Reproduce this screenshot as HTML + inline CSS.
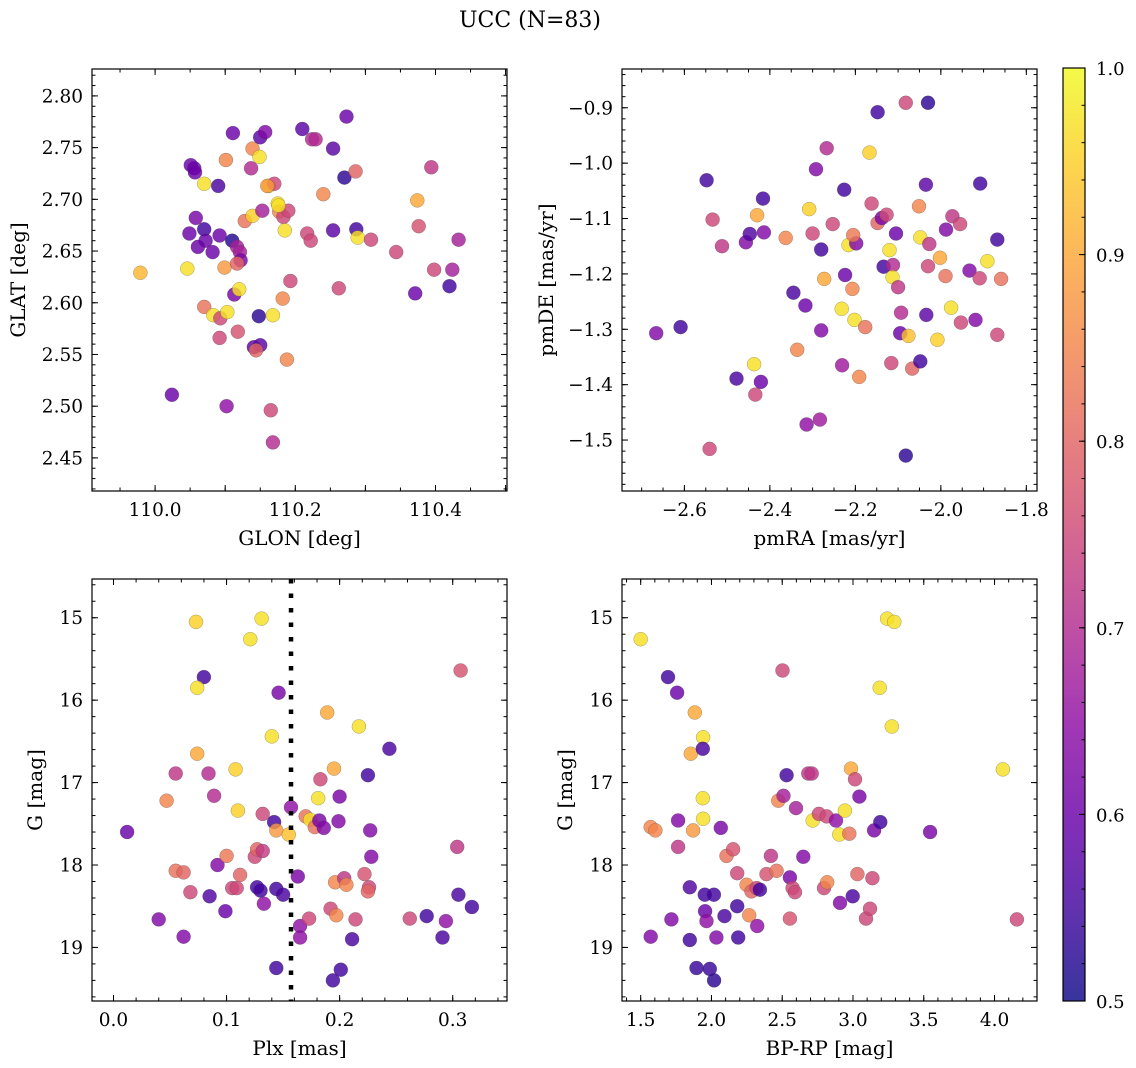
<!DOCTYPE html>
<html><head><meta charset="utf-8"><style>
body{margin:0;background:#fff;}
svg{display:block;font-family:"DejaVu Serif","Liberation Serif",serif;}
</style></head><body>
<svg id="fig" width="1136" height="1068" viewBox="0 0 1136 1068" xmlns="http://www.w3.org/2000/svg">
<rect width="1136" height="1068" fill="#fff"/>
<text x="530" y="27" font-size="22" text-anchor="middle">UCC (N=83)</text>
</svg>
<script>
const tlGlon=[109.979,110.024,110.046,110.051,110.056,110.049,110.058,110.061,110.070,110.070,110.072,110.070,110.082,110.083,110.090,110.092,110.092,110.093,110.101,110.099,110.103,110.110,110.111,110.117,110.113,110.120,110.118,110.121,110.122,110.117,110.102,110.128,110.137,110.139,110.139,110.149,110.150,110.157,110.148,110.150,110.141,110.144,110.153,110.162,110.170,110.165,110.168,110.168,110.175,110.177,110.183,110.190,110.185,110.182,110.188,110.193,110.210,110.224,110.229,110.217,110.222,110.240,110.254,110.254,110.262,110.270,110.273,110.286,110.287,110.289,110.308,110.344,110.371,110.374,110.376,110.394,110.398,110.420,110.424,110.433,110.176,110.160,110.057];
const tlGlat=[2.629,2.511,2.633,2.733,2.730,2.667,2.682,2.654,2.715,2.671,2.660,2.596,2.649,2.588,2.713,2.665,2.566,2.585,2.738,2.634,2.591,2.660,2.764,2.654,2.608,2.613,2.572,2.649,2.641,2.638,2.500,2.679,2.730,2.684,2.749,2.741,2.760,2.765,2.587,2.559,2.557,2.554,2.689,2.713,2.715,2.496,2.465,2.588,2.696,2.688,2.683,2.689,2.670,2.604,2.545,2.621,2.768,2.758,2.758,2.667,2.660,2.705,2.749,2.670,2.614,2.721,2.780,2.727,2.671,2.663,2.661,2.649,2.609,2.699,2.674,2.731,2.632,2.616,2.632,2.661,2.694,2.713,2.726];
const tlProb=[0.92,0.6,0.97,0.6,0.6,0.6,0.62,0.6,0.97,0.55,0.6,0.82,0.6,0.97,0.56,0.6,0.75,0.75,0.85,0.88,0.97,0.52,0.6,0.68,0.62,0.97,0.77,0.68,0.62,0.8,0.65,0.82,0.7,0.95,0.85,0.97,0.58,0.63,0.53,0.58,0.58,0.8,0.68,0.97,0.75,0.75,0.7,0.97,0.97,0.85,0.75,0.75,0.97,0.85,0.85,0.75,0.58,0.7,0.7,0.75,0.75,0.85,0.58,0.58,0.75,0.53,0.6,0.8,0.55,0.97,0.75,0.75,0.6,0.9,0.77,0.72,0.75,0.55,0.68,0.68,0.97,0.88,0.6];

const trPmra=[-2.666,-2.609,-2.548,-2.534,-2.512,-2.541,-2.478,-2.456,-2.447,-2.437,-2.434,-2.430,-2.421,-2.416,-2.414,-2.363,-2.345,-2.336,-2.317,-2.314,-2.308,-2.292,-2.283,-2.280,-2.280,-2.273,-2.267,-2.300,-2.253,-2.231,-2.232,-2.226,-2.224,-2.216,-2.198,-2.205,-2.207,-2.202,-2.191,-2.177,-2.167,-2.162,-2.148,-2.148,-2.138,-2.127,-2.134,-2.120,-2.112,-2.113,-2.116,-2.105,-2.100,-2.093,-2.095,-2.082,-2.082,-2.076,-2.067,-2.051,-2.048,-2.048,-2.035,-2.034,-2.030,-2.027,-2.030,-2.008,-2.002,-1.989,-1.988,-1.976,-1.973,-1.955,-1.953,-1.933,-1.919,-1.909,-1.908,-1.891,-1.868,-1.859,-1.868];
const trPmde=[-1.307,-1.296,-1.031,-1.102,-1.150,-1.516,-1.389,-1.143,-1.128,-1.363,-1.418,-1.094,-1.395,-1.064,-1.125,-1.135,-1.234,-1.337,-1.257,-1.472,-1.083,-1.011,-1.463,-1.156,-1.302,-1.209,-0.973,-1.127,-1.110,-1.365,-1.263,-1.048,-1.202,-1.148,-1.145,-1.130,-1.227,-1.283,-1.386,-1.296,-0.981,-1.073,-1.108,-0.908,-1.099,-1.093,-1.187,-1.157,-1.184,-1.206,-1.361,-1.127,-1.224,-1.270,-1.307,-0.891,-1.528,-1.312,-1.371,-1.078,-1.358,-1.134,-1.039,-1.274,-0.891,-1.146,-1.186,-1.319,-1.171,-1.204,-1.120,-1.261,-1.096,-1.110,-1.288,-1.194,-1.283,-1.208,-1.037,-1.177,-1.138,-1.209,-1.310];
const trProb=[0.63,0.55,0.55,0.75,0.72,0.75,0.56,0.63,0.57,0.97,0.75,0.9,0.6,0.55,0.63,0.85,0.56,0.85,0.6,0.65,0.95,0.63,0.67,0.55,0.63,0.9,0.7,0.75,0.75,0.67,0.97,0.55,0.6,0.97,0.63,0.83,0.85,0.97,0.85,0.82,0.95,0.75,0.8,0.55,0.62,0.75,0.55,0.97,0.7,0.97,0.75,0.6,0.72,0.7,0.6,0.75,0.53,0.93,0.8,0.85,0.55,0.97,0.58,0.58,0.53,0.72,0.75,0.95,0.9,0.82,0.63,0.97,0.72,0.75,0.75,0.63,0.63,0.75,0.55,0.97,0.55,0.82,0.75];

const blPlx=[0.012,0.040,0.062,0.047,0.055,0.055,0.062,0.068,0.073,0.080,0.074,0.074,0.084,0.085,0.089,0.092,0.099,0.100,0.105,0.109,0.112,0.108,0.110,0.121,0.131,0.125,0.127,0.127,0.130,0.132,0.133,0.140,0.142,0.144,0.144,0.146,0.150,0.155,0.144,0.157,0.163,0.165,0.165,0.170,0.173,0.174,0.178,0.183,0.181,0.182,0.186,0.189,0.192,0.195,0.197,0.196,0.200,0.199,0.201,0.194,0.204,0.206,0.211,0.214,0.217,0.222,0.225,0.226,0.225,0.227,0.228,0.244,0.262,0.277,0.291,0.294,0.304,0.307,0.305,0.317,0.132];
const blG=[17.60,18.66,18.87,17.22,16.89,18.07,18.09,18.33,15.05,15.72,15.85,16.65,16.89,18.38,17.16,18.00,18.56,17.89,18.28,18.28,18.12,16.84,17.34,15.26,15.01,17.90,17.81,18.27,18.31,17.38,18.47,16.44,17.48,17.58,18.29,15.91,18.36,17.63,19.25,17.30,18.14,18.74,18.88,17.41,18.65,17.45,17.54,16.96,17.19,17.46,17.55,16.15,18.53,16.83,18.61,18.21,17.17,17.47,19.27,19.40,18.16,18.24,18.90,18.66,16.32,18.11,16.91,18.27,18.32,17.58,17.90,16.59,18.65,18.62,18.88,18.68,17.78,15.64,18.36,18.51,17.83];
const blProb=[0.6,0.63,0.63,0.85,0.72,0.82,0.8,0.75,0.95,0.55,0.97,0.9,0.7,0.57,0.7,0.63,0.6,0.83,0.75,0.75,0.8,0.95,0.95,0.97,0.97,0.75,0.8,0.55,0.55,0.75,0.65,0.97,0.55,0.88,0.55,0.62,0.56,0.93,0.55,0.65,0.62,0.65,0.65,0.82,0.75,0.97,0.82,0.75,0.97,0.62,0.63,0.9,0.75,0.9,0.85,0.85,0.62,0.63,0.55,0.55,0.72,0.85,0.56,0.75,0.97,0.77,0.55,0.75,0.8,0.63,0.63,0.56,0.75,0.55,0.56,0.65,0.72,0.77,0.56,0.55,0.73];
const plxLine=0.157;

const brBprp=[1.500,1.571,1.571,1.604,1.693,1.757,1.717,1.764,1.764,1.847,1.847,1.870,1.882,1.854,1.941,1.939,1.939,1.941,1.953,2.017,1.955,1.965,1.894,1.988,2.019,2.035,2.066,2.092,2.106,2.153,2.182,2.182,2.189,2.248,2.283,2.267,2.318,2.342,2.323,2.389,2.420,2.460,2.472,2.502,2.509,2.531,2.554,2.573,2.590,2.554,2.597,2.649,2.684,2.708,2.715,2.759,2.814,2.795,2.818,2.880,2.908,2.903,2.943,2.974,2.986,2.998,3.014,3.031,3.045,3.092,3.120,3.137,3.149,3.193,3.189,3.241,3.292,3.274,3.545,4.059,4.158];
const brG=[15.26,18.87,17.54,17.58,15.72,15.91,18.66,17.46,17.78,18.27,18.91,17.58,16.15,16.65,16.45,16.59,17.19,17.44,18.36,18.36,18.56,18.68,19.25,19.26,19.40,18.88,17.55,18.62,17.89,17.81,18.10,18.50,18.88,18.24,18.32,18.61,18.28,18.30,18.74,18.11,17.89,18.07,17.22,15.64,17.16,16.91,18.15,18.28,18.33,18.65,17.31,17.90,16.89,16.89,17.46,17.38,17.41,18.28,18.21,17.46,18.46,17.63,17.34,17.62,16.83,18.38,16.96,18.11,17.17,18.65,18.53,18.16,17.58,17.48,15.85,15.01,15.05,16.32,17.60,16.84,18.66];
const brProb=[0.97,0.63,0.85,0.85,0.55,0.6,0.63,0.63,0.72,0.57,0.55,0.88,0.9,0.9,0.97,0.56,0.97,0.97,0.55,0.55,0.6,0.65,0.54,0.54,0.53,0.63,0.62,0.56,0.82,0.77,0.75,0.55,0.55,0.85,0.8,0.85,0.75,0.55,0.65,0.77,0.72,0.82,0.85,0.75,0.68,0.55,0.62,0.75,0.75,0.77,0.68,0.63,0.72,0.72,0.97,0.75,0.75,0.75,0.85,0.65,0.63,0.97,0.97,0.82,0.9,0.56,0.75,0.8,0.62,0.75,0.75,0.75,0.62,0.55,0.97,0.97,0.97,0.97,0.62,0.97,0.75];

const cbTicks=[0.5,0.6,0.7,0.8,0.9,1.0];

const NS='http://www.w3.org/2000/svg';
const svg=document.getElementById('fig');
function mk(tag,attrs,parent){const e=document.createElementNS(NS,tag);for(const k in attrs)e.setAttribute(k,attrs[k]);(parent||svg).appendChild(e);return e;}
const stops=[[13,8,135],[65,4,157],[106,0,168],[143,13,164],[177,42,144],[204,71,120],[225,100,98],[242,132,75],[252,166,54],[252,206,37],[240,249,33]];
function plasma(t){t=Math.max(0,Math.min(1,t));const f=t*10,i=Math.min(9,Math.floor(f)),u=f-i;const a=stops[i],b=stops[i+1];return 'rgb('+[0,1,2].map(k=>Math.round(a[k]+(b[k]-a[k])*u)).join(',')+')';}
function pcol(p){return plasma((p-0.5)/0.5);}
function fmt(v,d){const s=Math.abs(v).toFixed(d);return (v<-1e-9?'\u2212':'')+s;}

function panel(o){
  const g=mk('g',{});
  
  
  const sx=v=>o.x0+(v-o.xlim[0])/(o.xlim[1]-o.xlim[0])*(o.x1-o.x0);
  const sy=o.inv?(v=>o.y0+(v-o.ylim[0])/(o.ylim[1]-o.ylim[0])*(o.y1-o.y0)):(v=>o.y1-(v-o.ylim[0])/(o.ylim[1]-o.ylim[0])*(o.y1-o.y0));
  const pts=mk('g',{},g);
  
  
  const n=Math.min(o.xs.length,o.ys.length,o.ps.length);
  for(let i=0;i<n;i++){
    const c=mk('circle',{cx:sx(o.xs[i]).toFixed(1),cy:sy(o.ys[i]).toFixed(1),r:7,fill:pcol(o.ps[i]),'fill-opacity':0.82,stroke:'rgba(60,60,60,0.45)','stroke-width':0.5},pts);
    
    
  }
  if(o.vline!==undefined){
    const l=mk('line',{x1:sx(o.vline),x2:sx(o.vline),y1:o.y0,y2:o.y1,stroke:'#000','stroke-width':4.5,'stroke-dasharray':'4.5 10'},g);
    
    
  }
  const tk=mk('g',{stroke:'#000','stroke-width':1},g);
  
  
  function ticksAxis(lim,step,len,isX,lblStep,dec){
    const s=Math.ceil(lim[0]/step-1e-6),e=Math.floor(lim[1]/step+1e-6);
    for(let k=s;k<=e;k++){
      const v=k*step;
      if(isX){const x=sx(v);mk('line',{x1:x,x2:x,y1:o.y1,y2:o.y1-len},tk);mk('line',{x1:x,x2:x,y1:o.y0,y2:o.y0+len},tk);
        if(lblStep&&Math.abs(v/lblStep-Math.round(v/lblStep))<1e-6){const t=mk('text',{x:x,y:o.y1+25,'font-size':18.5,'text-anchor':'middle',stroke:'none'},g);t.textContent=fmt(v,dec);}}
      else{const y=sy(v);mk('line',{x1:o.x0,x2:o.x0+len,y1:y,y2:y},tk);mk('line',{x1:o.x1,x2:o.x1-len,y1:y,y2:y},tk);
        if(lblStep&&Math.abs(v/lblStep-Math.round(v/lblStep))<1e-6){const t=mk('text',{x:o.x0-9,y:y+6.5,'font-size':18.5,'text-anchor':'end',stroke:'none'},g);t.textContent=fmt(v,dec);}}
    }
  }
  ticksAxis(o.xlim,o.xmin,3.5,true,null,0);
  ticksAxis(o.xlim,o.xmaj,6,true,o.xlbl,o.xdec);
  ticksAxis(o.ylim,o.ymin,3.5,false,null,0);
  ticksAxis(o.ylim,o.ymaj,6,false,o.ylbl,o.ydec);
  const fr=mk('rect',{x:o.x0,y:o.y0,width:o.x1-o.x0,height:o.y1-o.y0,fill:'none',stroke:'#000','stroke-width':1.2},g);
  
  
  const xl=mk('text',{x:(o.x0+o.x1)/2,y:o.y1+54,'font-size':20,'text-anchor':'middle'},g);
  xl.textContent=o.xt;
  
  
  const yx=o.ytx, yy=(o.y0+o.y1)/2;
  const yl=mk('text',{x:yx,y:yy,'font-size':20,'text-anchor':'middle',transform:'rotate(-90 '+yx+' '+yy+')'},g);
  yl.textContent=o.yt;
  
  
}

panel({name:'glon-glat-panel',x0:92,x1:507,y0:69,y1:491,xlim:[109.910,110.502],ylim:[2.418,2.826],xs:tlGlon,ys:tlGlat,ps:tlProb,
  xmaj:0.1,xmin:0.05,xlbl:0.2,xdec:1,ymaj:0.05,ymin:0.01,ylbl:0.05,ydec:2,xt:'GLON [deg]',yt:'GLAT [deg]',ytx:25});
panel({name:'proper-motion-panel',x0:622,x1:1037,y0:69,y1:491,xlim:[-2.746,-1.775],ylim:[-1.592,-0.830],xs:trPmra,ys:trPmde,ps:trProb,
  xmaj:0.2,xmin:0.05,xlbl:0.2,xdec:1,ymaj:0.1,ymin:0.02,ylbl:0.1,ydec:1,xt:'pmRA [mas/yr]',yt:'pmDE [mas/yr]',ytx:553});
panel({name:'plx-g-panel',x0:92,x1:507,y0:579,y1:1001,xlim:[-0.019,0.348],ylim:[14.53,19.65],inv:true,xs:blPlx,ys:blG,ps:blProb,vline:plxLine,
  xmaj:0.1,xmin:0.02,xlbl:0.1,xdec:1,ymaj:1,ymin:0.2,ylbl:1,ydec:0,xt:'Plx [mas]',yt:'G [mag]',ytx:42});
panel({name:'cmd-panel',x0:622,x1:1037,y0:579,y1:1001,xlim:[1.368,4.300],ylim:[14.53,19.65],inv:true,xs:brBprp,ys:brG,ps:brProb,
  xmaj:0.5,xmin:0.1,xlbl:0.5,xdec:1,ymaj:1,ymin:0.2,ylbl:1,ydec:0,xt:'BP-RP [mag]',yt:'G [mag]',ytx:572});

const cb=mk('g',{});


const defs=mk('defs',{},cb);
const lg=mk('linearGradient',{id:'cbg',x1:0,y1:1,x2:0,y2:0},defs);
for(let i=0;i<=20;i++){mk('stop',{offset:(i/20),'stop-color':plasma(i/20),'stop-opacity':0.82},lg);}
const cbx0=1063,cbx1=1085,cby0=68,cby1=1001;
mk('rect',{x:cbx0,y:cby0,width:cbx1-cbx0,height:cby1-cby0,fill:'url(#cbg)',stroke:'#000','stroke-width':1.2},cb);
const cy=v=>cby1-(v-0.5)/0.5*(cby1-cby0);
for(let k=25;k<=50;k++){const v=k*0.02;if(v>1.0001)break;const y=cy(v);mk('line',{x1:cbx1,x2:cbx1-3.5,y1:y,y2:y,stroke:'#000'},cb);}
cbTicks.forEach(v=>{const y=cy(v);mk('line',{x1:cbx1,x2:cbx1-6,y1:y,y2:y,stroke:'#000'},cb);
  const t=mk('text',{x:cbx1+11,y:y+7,'font-size':18},cb);t.textContent=v.toFixed(1);
  
  });
</script>
</body></html>
